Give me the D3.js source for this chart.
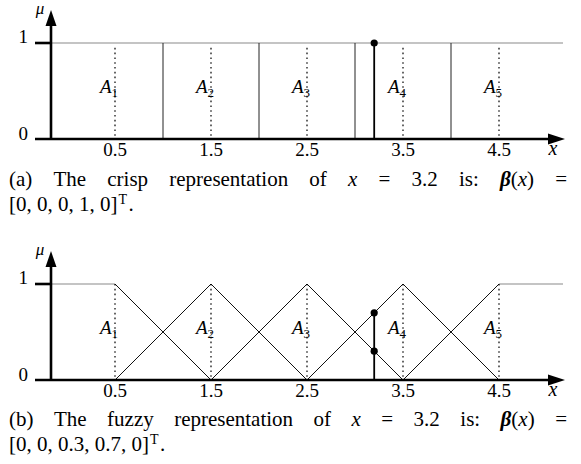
<!DOCTYPE html>
<html>
<head>
<meta charset="utf-8">
<script src="https://cdn.jsdelivr.net/npm/d3@7"></script>
<style>
  body { margin: 0; background: #fff; }
  svg { display: block; }
</style>
</head>
<body>
<svg id="fig" width="581" height="464"></svg>
<script>
// Fuzzy sets A1..A5: centres of the partitions of the input range [0, 5]
const centers = [0.5, 1.5, 2.5, 3.5, 4.5];
const setIndex = ["1", "2", "3", "4", "5"];
// Crisp interval boundaries
const boundaries = [1, 2, 3, 4];
const tickLabels = ["0.5", "1.5", "2.5", "3.5", "4.5"];
// Input value and its two encodings
const xInput = 3.2;
const crispBeta = [0, 0, 0, 1, 0];
const fuzzyBeta = [0, 0, 0.3, 0.7, 0];
const captionA = ["(a)", "The", "crisp", "representation"];
const captionB = ["(b)", "The", "fuzzy", "representation"];

const FONT = '"Liberation Serif"';
const svg = d3.select("#fig");
const x = d3.scaleLinear().domain([0, 5]).range([67, 547]);

const axisX = 51, tickStart = 35, lineEnd = 563, arrowTip = 565;
const xLeft = x.invert(axisX), xRight = x.invert(lineEnd);

// serif text element, sized in px
function txt(sel, size) {
  return sel.append("text")
    .attr("font-family", FONT)
    .style("font-family", FONT, "important")
    .style("font-size", size + "px", "important")
    .attr("fill", "#000");
}

function panel(top, kind) {
  const y = d3.scaleLinear().domain([0, 1]).range([top + 96, top]);
  const g = svg.append("g");

  if (kind === "crisp") {
    // membership value 1 reference line (grey)
    g.append("line").attr("x1", x(xLeft)).attr("x2", x(xRight))
      .attr("y1", y(1)).attr("y2", y(1)).attr("stroke", "#8a8a8a").attr("stroke-width", 1.2);
    g.selectAll(".bnd").data(boundaries).join("line")
      .attr("x1", d => x(d)).attr("x2", d => x(d))
      .attr("y1", y(1)).attr("y2", y(0))
      .attr("stroke", "#222").attr("stroke-width", 1);
    g.selectAll(".dot").data(centers).join("line")
      .attr("x1", d => x(d)).attr("x2", d => x(d))
      .attr("y1", y(0.95)).attr("y2", y(0))
      .attr("stroke", "#000").attr("stroke-width", 1.2).attr("stroke-dasharray", "1.6,3.2");
  } else {
    // flat shoulders of the outer sets
    g.append("line").attr("x1", x(xLeft)).attr("x2", x(centers[0]))
      .attr("y1", y(1)).attr("y2", y(1)).attr("stroke", "#8a8a8a").attr("stroke-width", 1.2);
    g.append("line").attr("x1", x(centers[4])).attr("x2", x(xRight))
      .attr("y1", y(1)).attr("y2", y(1)).attr("stroke", "#8a8a8a").attr("stroke-width", 1.2);
    // triangular slopes
    const line = d3.line().x(d => x(d[0])).y(d => y(d[1]));
    centers.forEach((c, i) => {
      const pts = [];
      if (i > 0) pts.push([c - 1, 0]);
      pts.push([c, 1]);
      if (i < centers.length - 1) pts.push([c + 1, 0]);
      g.append("path").attr("d", line(pts)).attr("fill", "none")
        .attr("stroke", "#111").attr("stroke-width", 1);
    });
    g.selectAll(".dot").data(centers).join("line")
      .attr("x1", d => x(d)).attr("x2", d => x(d))
      .attr("y1", y(1)).attr("y2", y(0))
      .attr("stroke", "#000").attr("stroke-width", 1.2).attr("stroke-dasharray", "1.6,3.2");
  }

  // set labels A_i
  centers.forEach((c, i) => {
    const t = txt(g, 19).attr("x", x(c) - 15).attr("y", y(0) - 46);
    t.append("tspan").text("A").style("font-style", "italic");
    t.append("tspan").text(setIndex[i]).attr("dy", 4).style("font-size", "13px", "important");
  });

  // input value and its membership degrees
  const beta = kind === "crisp" ? crispBeta : fuzzyBeta;
  const vals = beta.filter(v => v > 0);
  g.append("line").attr("x1", x(xInput)).attr("x2", x(xInput))
    .attr("y1", y(0)).attr("y2", y(d3.max(vals)))
    .attr("stroke", "#000").attr("stroke-width", 1.8);
  g.selectAll(".pt").data(vals).join("circle")
    .attr("cx", x(xInput)).attr("cy", d => y(d)).attr("r", 3.6).attr("fill", "#000");

  // axes with arrow heads
  g.append("line").attr("x1", tickStart).attr("x2", arrowTip - 10)
    .attr("y1", y(0)).attr("y2", y(0)).attr("stroke", "#000").attr("stroke-width", 2.6);
  g.append("path").attr("d", `M${arrowTip},${y(0)} L${arrowTip - 17},${y(0) - 5.5} L${arrowTip - 17},${y(0) + 5.5} Z`)
    .attr("fill", "#000");
  g.append("line").attr("x1", axisX).attr("x2", axisX)
    .attr("y1", y(0) + 1).attr("y2", top - 22)
    .attr("stroke", "#000").attr("stroke-width", 2.6);
  g.append("path").attr("d", `M${axisX},${top - 33} L${axisX - 5.5},${top - 17} L${axisX + 5.5},${top - 17} Z`)
    .attr("fill", "#000");
  g.append("line").attr("x1", tickStart).attr("x2", axisX)
    .attr("y1", y(1)).attr("y2", y(1)).attr("stroke", "#000").attr("stroke-width", 2.6);

  // axis texts
  txt(g, 17).attr("x", 40).attr("y", y(1) - 29).attr("text-anchor", "middle")
    .style("font-style", "italic").text("μ");
  txt(g, 19).attr("x", 28).attr("y", y(1)).attr("text-anchor", "end").text("1");
  txt(g, 19).attr("x", 28).attr("y", y(0) + 1).attr("text-anchor", "end").text("0");
  centers.forEach((c, i) => {
    txt(g, 19).attr("x", x(c)).attr("y", y(0) + 17).attr("text-anchor", "middle").text(tickLabels[i]);
  });
  txt(g, 20).attr("x", 553).attr("y", y(0) + 16).attr("text-anchor", "middle")
    .style("font-style", "italic").text("x");
  return y;
}

// Justified first caption line, left-aligned second line
function caption(words, vector, base) {
  const left = 9, right = 567;
  const tokens = words.map(w => [{ t: w }]).concat([
    [{ t: "of" }],
    [{ t: "x", it: true }],
    [{ t: "=" }],
    [{ t: "3.2" }],
    [{ t: "is:" }],
    [{ t: "β", it: true, b: true }, { t: "(" }, { t: "x", it: true }, { t: ")" }],
    [{ t: "=" }]
  ]);
  const texts = tokens.map(tok => {
    const t = txt(svg, 21).attr("y", base);
    tok.forEach(s => {
      const sp = t.append("tspan").text(s.t);
      if (s.it) sp.style("font-style", "italic");
      if (s.b) sp.style("font-weight", "bold");
    });
    return t;
  });
  const widths = texts.map(t => t.node().getComputedTextLength());
  const gap = (right - left - d3.sum(widths)) / (texts.length - 1);
  let cx = left;
  texts.forEach((t, i) => { t.attr("x", cx); cx += widths[i] + gap; });

  // second line: vector with transpose mark drawn as its own raised text
  const l2 = txt(svg, 21).attr("x", left).attr("y", base + 25)
    .text("[" + vector.join(", ") + "]");
  const w2 = l2.node().getComputedTextLength();
  txt(svg, 14).attr("x", left + w2 + 1).attr("y", base + 18).text("T");
  txt(svg, 21).attr("x", left + w2 + 11).attr("y", base + 25).text(".");
}

panel(43, "crisp");
caption(captionA, crispBeta, 186);
panel(284, "fuzzy");
caption(captionB, fuzzyBeta, 426);
</script>
</body>
</html>
